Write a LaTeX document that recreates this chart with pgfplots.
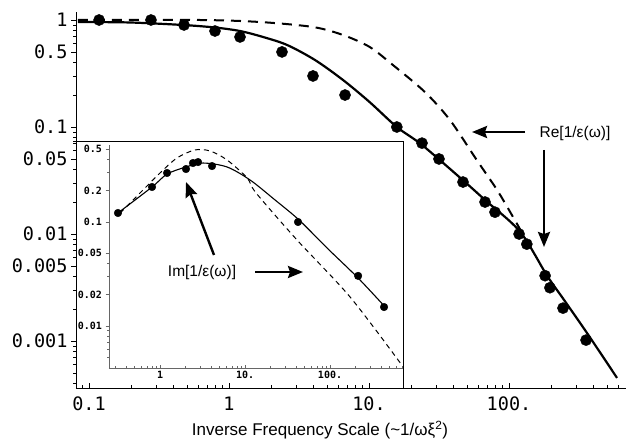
\documentclass[border=0pt]{standalone}
\usepackage{pgfplots}
\pgfplotsset{compat=1.18}
\usepackage{fontspec}
\setmainfont{Liberation Sans}
\newfontfamily\mono{DejaVu Sans Mono}
\usetikzlibrary{arrows.meta}
\begin{document}
\begin{tikzpicture}[x=1pt,y=1pt]
\useasboundingbox (-76,-51) rectangle (550,388);
% inset white box
\fill[white] (0,0) rectangle (327,247);
\begin{axis}[
  at={(0,0)}, anchor=south west, scale only axis,
  width=550pt, height=376pt,
  xmode=log, ymode=log,
  xmin=0.0807, xmax=685, ymin=3.64e-4, ymax=1.188,
  axis x line=bottom, axis y line=left,
  axis line style={-, line width=0.9pt},
  xtick={0.1,1,10,100}, xticklabels={0.1,1,10.,100.},
  minor xtick={0.09,0.2,0.3,0.4,0.5,0.6,0.7,0.8,0.9,2,3,4,5,6,7,8,9,20,30,40,50,60,70,80,90,200,300,400,500,600},
  ytick={0.001,0.005,0.01,0.05,0.1,0.5,1}, yticklabels={0.001,0.005,0.01,0.05,0.1,0.5,1},
  minor ytick={0.0004,0.0005,0.0006,0.0007,0.0008,0.0009,0.002,0.003,0.004,0.006,0.007,0.008,0.009,0.02,0.03,0.04,0.06,0.07,0.08,0.09,0.2,0.3,0.4,0.6,0.7,0.8,0.9},
  xtick align=inside, ytick align=outside,
  major tick length=5pt, minor tick length=3pt,
  tick style={black, line width=0.6pt},
  ticklabel style={font=\mono\fontsize{18.5}{20}\selectfont},
  xticklabel style={yshift=-5pt},
  xlabel={Inverse Frequency Scale (\textasciitilde1/ωξ\textsuperscript{2})},
  xlabel style={font=\fontsize{17}{19}\selectfont, at={(axis description cs:0.4436,0)}, anchor=center, yshift=-42pt},
  clip=false,
]
\addplot[black, line width=2.2pt, smooth, tension=0.5] coordinates {
(0.0834,0.958)(0.196,0.948)(0.47,0.898)(0.794,0.851)(1.198,0.789)(1.75,0.694)(2.6,0.584)(4.11,0.423)(6.52,0.275)(10.1,0.171)(15.8,0.1)(23.9,0.068)(46.9,0.0318)(67.4,0.0208)(120,0.0105)(187,0.00408)(243,0.0025)(362,0.00118)(591,0.000452)};
\addplot[black, line width=2pt, dash pattern=on 10pt off 7pt, smooth, tension=0.5] coordinates {
(0.0834,1.0)(0.62,1.0)(1.66,0.958)(3.98,0.86)(6.52,0.724)(10.1,0.56)(14.8,0.38)(25.1,0.212)(37.9,0.116)(58.9,0.049)(82,0.0259)(105,0.015)(130,0.0092)};
\addplot[only marks, mark=*, mark size=5.6pt, black] coordinates {
(0.118,1.0)(0.277,1.0)(0.477,0.898)(0.794,0.789)(1.198,0.694)(2.39,0.503)(3.98,0.300)(6.74,0.199)(15.8,0.1)(23.9,0.0707)(31.6,0.0503)(46.9,0.0306)(67.4,0.0199)(79.4,0.0160)(118,0.0100)(134,0.00804)(181,0.00408)(196,0.00315)(243,0.00203)(355,0.00102)};
\end{axis}
% inset frame
\draw[black, line width=0.9pt] (-3,247) -- (327,247) -- (327,0);
\begin{axis}[
  at={(33pt,20pt)}, anchor=south west, scale only axis,
  width=294pt, height=223pt,
  xmode=log, ymode=log,
  xmin=0.251, xmax=722, ymin=0.00394, ymax=0.55,
  axis x line=bottom, axis y line=left,
  axis line style={-, line width=0.8pt, black!60},
  xtick={1,10,100}, xticklabels={1,10.,100.},
  minor xtick={0.3,0.4,0.5,0.6,0.7,0.8,0.9,2,3,4,5,6,7,8,9,20,30,40,50,60,70,80,90,200,300,400,500,600,700},
  ytick={0.01,0.02,0.05,0.1,0.2,0.5}, yticklabels={0.01,0.02,0.05,0.1,0.2,0.5},
  minor ytick={0.005,0.006,0.007,0.008,0.009,0.03,0.04,0.3,0.4},
  xtick align=inside, ytick align=outside,
  major tick length=3.5pt, minor tick length=2pt,
  tick style={black!60, line width=0.5pt},
  ticklabel style={font=\mono\bfseries\fontsize{10}{11}\selectfont},
  clip=false,
]
\addplot[black, line width=1.1pt, smooth, tension=0.5] coordinates {
(0.32,0.122)(0.805,0.217)(1.21,0.289)(2.02,0.338)(3.2,0.369)(6.14,0.338)(11.5,0.253)(22.5,0.163)(43.2,0.1045)(92.2,0.0562)(213,0.029)(456,0.0149)};
\addplot[black, line width=1pt, dash pattern=on 5pt off 4pt, smooth, tension=0.5] coordinates {
(0.339,0.122)(0.631,0.203)(1.0,0.296)(1.585,0.413)(2.58,0.493)(3.87,0.482)(6.14,0.395)(10.6,0.265)(13.5,0.19)(40.9,0.0671)(172,0.019)(684,0.00431)};
\addplot[only marks, mark=*, mark size=3.8pt, black] coordinates {
(0.32,0.122)(0.805,0.217)(1.21,0.296)(2.02,0.323)(2.44,0.369)(2.8,0.377)(4.09,0.345)(42,0.1)(214,0.0303)(432,0.0152)};
\end{axis}
% annotations
\node[font=\fontsize{15.5}{18}\selectfont] at (499,255) {Re[1/ε(ω)]};
\draw[line width=2.4pt, -{Stealth[length=15pt,width=12pt,inset=2pt]}] (449,256) -- (396,256);
\draw[line width=2.4pt, -{Stealth[length=15pt,width=12pt,inset=2pt]}] (468,238) -- (468,141);
\node[font=\fontsize{15.5}{18}\selectfont] at (126,116) {Im[1/ε(ω)]};
\draw[line width=2.4pt, -{Stealth[length=15pt,width=12pt,inset=2pt]}] (179,116) -- (227,116);
\draw[line width=2.4pt, -{Stealth[length=15pt,width=12pt,inset=2pt]}] (138,133) -- (110,206);
\end{tikzpicture}
\end{document}
